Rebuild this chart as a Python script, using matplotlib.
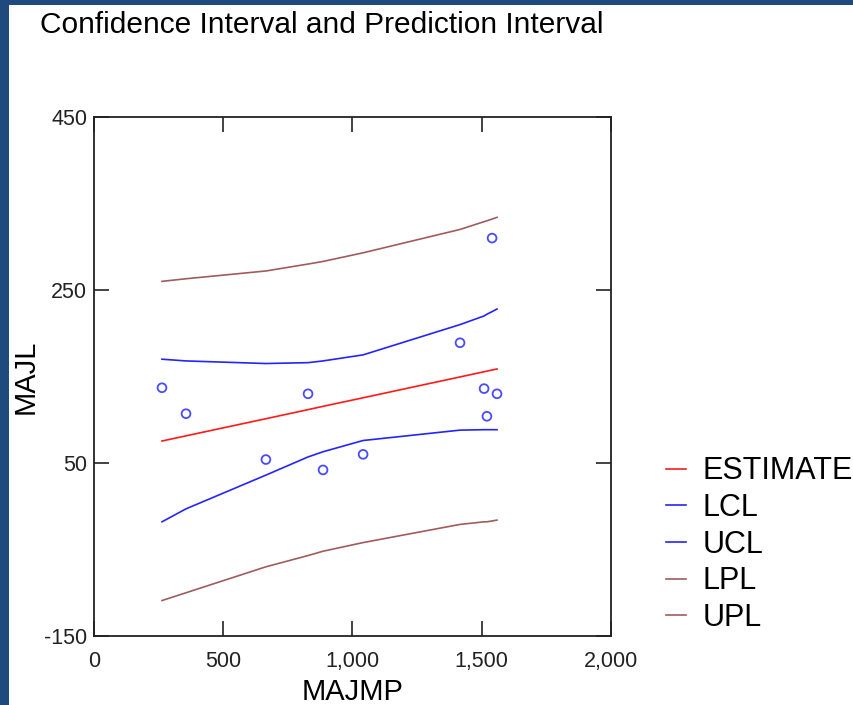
import matplotlib
matplotlib.use("Agg")
import matplotlib.pyplot as plt
from matplotlib.patches import Rectangle
from matplotlib.ticker import FuncFormatter

plt.rcParams["axes.unicode_minus"] = False

# observed points
majmp = [263, 356, 665, 828, 886, 1041, 1416, 1509, 1520, 1540, 1559]
majl = [137, 107, 54, 130, 42, 60, 189, 136, 104, 310, 130]

# fitted line and interval bands, evaluated at the sorted MAJMP values
fit_x = [263, 356, 665, 828, 886, 1041, 1416, 1509, 1520, 1540, 1559]
estimate = [75.4, 81.4, 101.2, 111.7, 115.5, 125.4, 149.5, 155.5, 156.2, 157.5, 158.7]
ucl = [170, 168, 165, 166, 168, 175, 210, 220, 222, 225, 228]
lcl = [-18, -3, 36, 57, 63, 76, 88, 88.5, 88.5, 88.5, 88.5]
upl = [260, 263, 272, 280, 283, 293, 320, 329, 330, 332, 334]
lpl = [-109, -100, -70, -57, -52, -42, -21, -18, -18, -17, -16]

x_ticks = [0, 500, 1000, 1500, 2000]
y_ticks = [-150, 50, 250, 450]

RED = "#ff1a1a"
BLUE = "#2424ff"
BROWN = "#a05c5c"
FRAME = "#1f4a7e"

fig = plt.figure(figsize=(8.54, 7.05), dpi=100, facecolor="white")
# dark blue window frame on the left and top edges
fig.patches.append(Rectangle((0, 0), 9 / 854, 1, transform=fig.transFigure,
                             facecolor=FRAME, edgecolor="none", zorder=-10))
fig.patches.append(Rectangle((0, 1 - 5 / 705), 1, 5 / 705, transform=fig.transFigure,
                             facecolor=FRAME, edgecolor="none", zorder=-10))

ax = fig.add_axes([94 / 854, 1 - 636 / 705, 517 / 854, 519 / 705])
ax.set_facecolor("white")

ax.plot(fit_x, estimate, color=RED, lw=1.2, label="ESTIMATE")
ax.plot(fit_x, lcl, color=BLUE, lw=1.2, label="LCL")
ax.plot(fit_x, ucl, color=BLUE, lw=1.2, label="UCL")
ax.plot(fit_x, lpl, color=BROWN, lw=1.2, label="LPL")
ax.plot(fit_x, upl, color=BROWN, lw=1.2, label="UPL")
ax.scatter(majmp, majl, s=40, facecolors="none", edgecolors="#4a4aff", linewidths=1.3, zorder=3)

ax.set_xlim(0, 2000)
ax.set_ylim(-150, 450)
ax.set_xticks(x_ticks)
ax.set_yticks(y_ticks)
ax.xaxis.set_major_formatter(FuncFormatter(lambda v, p: f"{int(v):,}"))

tick_family = ["Liberation Sans Narrow", "Liberation Sans", "DejaVu Sans"]
for lab in ax.get_xticklabels() + ax.get_yticklabels():
    lab.set_fontfamily(tick_family)
    lab.set_fontsize(15.5)
    lab.set_color("#222222")

ax.tick_params(axis="both", direction="in", length=11, width=1.2, color="#222222",
               top=True, right=True)
ax.tick_params(axis="x", pad=11)
ax.tick_params(axis="y", pad=5)
for sp in ax.spines.values():
    sp.set_linewidth(1.3)
    sp.set_color("#222222")

label_font = ["Liberation Sans", "DejaVu Sans"]
ax.set_xlabel("MAJMP", fontsize=21, family=label_font, labelpad=4)
ax.set_ylabel("MAJL", fontsize=21, family=label_font)
ax.yaxis.set_label_coords((40 - 94) / 517, 0.5)

fig.text(40 / 854, 1 - 25 / 705, "Confidence Interval and Prediction Interval",
         fontsize=21.5, family=label_font, va="center", ha="left")

fig.legend(loc="upper left", bbox_to_anchor=(654 / 854, 1 - 444 / 705),
           frameon=False, prop={"family": label_font, "size": 22},
           handlelength=0.65, handletextpad=0.55, labelspacing=0.22, borderaxespad=0)

fig.savefig("out.png", dpi=100, facecolor=fig.get_facecolor())
